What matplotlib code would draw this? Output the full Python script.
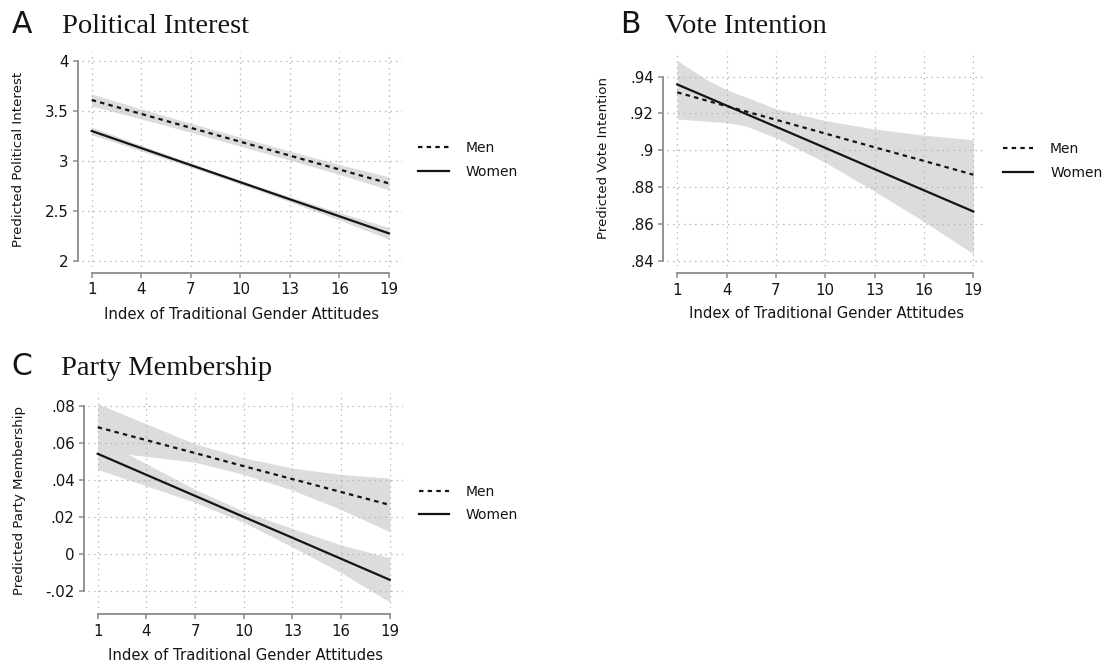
import matplotlib
matplotlib.use("Agg")
import matplotlib.pyplot as plt

# ---------------- data ----------------
x_vals = [1, 4, 7, 10, 13, 16, 19]
x_ticks = [1, 4, 7, 10, 13, 16, 19]

# Panel A: Political Interest
a_men = [3.607, 3.468, 3.329, 3.190, 3.051, 2.912, 2.773]
a_men_lo = [3.547, 3.418, 3.284, 3.145, 3.006, 2.862, 2.708]
a_men_hi = [3.667, 3.518, 3.374, 3.235, 3.096, 2.962, 2.838]
a_women = [3.297, 3.126, 2.956, 2.785, 2.614, 2.444, 2.273]
a_women_lo = [3.259, 3.098, 2.936, 2.765, 2.589, 2.406, 2.215]
a_women_hi = [3.335, 3.154, 2.976, 2.805, 2.639, 2.482, 2.331]
a_yticks = [2, 2.5, 3, 3.5, 4]
a_yticklabels = ["2", "2.5", "3", "3.5", "4"]

# Panel B: Vote Intention
b_men = [.9315, .9240, .9166, .9091, .9016, .8942, .8867]
b_men_lo = [.9170, .9150, .9106, .9021, .8916, .8802, .8677]
b_men_hi = [.9460, .9330, .9226, .9161, .9116, .9082, .9057]
b_women = [.9358, .9243, .9128, .9013, .8897, .8782, .8667]
b_women_lo = [.9228, .9173, .9068, .8933, .8777, .8612, .8437]
b_women_hi = [.9488, .9313, .9188, .9093, .9017, .8952, .8897]
b_yticks = [.84, .86, .88, .90, .92, .94]
b_yticklabels = [".84", ".86", ".88", ".9", ".92", ".94"]

# Panel C: Party Membership
c_men = [.0686, .0616, .0546, .0475, .0405, .0335, .0265]
c_men_lo = [.0559, .0528, .0496, .0430, .0345, .0240, .0120]
c_men_hi = [.0813, .0704, .0596, .0520, .0465, .0430, .0410]
c_women = [.0542, .0428, .0314, .0200, .0087, -.0027, -.0141]
c_women_lo = [.0457, .0368, .0279, .0170, .0037, -.0102, -.0261]
c_women_hi = [.0627, .0488, .0349, .0230, .0137, .0048, -.0021]
c_yticks = [-.02, 0, .02, .04, .06, .08]
c_yticklabels = ["-.02", "0", ".02", ".04", ".06", ".08"]

series_labels = ["Men", "Women"]
x_label = "Index of Traditional Gender Attitudes"

# ---------------- style ----------------
W, H = 1109, 665
fig = plt.figure(figsize=(W / 100, H / 100), dpi=100)
SANS = ["DejaVu Sans"]
SERIF = ["Liberation Serif", "DejaVu Serif"]
plt.rcParams["font.family"] = SANS

SPINE = "#8a8a8a"
BAND = "#dcdcdc"
GRID = "#b8b8b8"
INK = "#141414"


def px_axes(left, top, right, bottom):
    return fig.add_axes([left / W, 1 - bottom / H, (right - left) / W, (bottom - top) / H])


def panel(ax, men, men_lo, men_hi, women, women_lo, women_hi,
          yticks, yticklabels, ylim, ylabel, ylabel_x, spine_out, leg_anchor, xlab_y):
    ax.fill_between(x_vals, men_lo, men_hi, color=BAND, lw=0, zorder=1)
    ax.fill_between(x_vals, women_lo, women_hi, color=BAND, lw=0, zorder=1)
    ax.plot(x_vals, men, color=INK, lw=1.6, ls=(0, (2.0, 1.9)),
            label=series_labels[0], zorder=3)
    ax.plot(x_vals, women, color=INK, lw=1.6, ls="-",
            label=series_labels[1], zorder=3)
    ax.set_xlim(0.4, 19.79)
    ax.set_ylim(*ylim)
    ax.set_xticks(x_ticks)
    ax.set_yticks(yticks)
    ax.set_yticklabels(yticklabels)
    ax.grid(True, color=GRID, lw=0.9, ls=(0, (1.2, 3.2)), zorder=2)
    ax.set_axisbelow(False)
    for s in ["top", "right"]:
        ax.spines[s].set_visible(False)
    ax.spines["left"].set_position(("outward", spine_out[0]))
    ax.spines["bottom"].set_position(("outward", spine_out[1]))
    ax.spines["left"].set_bounds(yticks[0], yticks[-1])
    ax.spines["bottom"].set_bounds(x_ticks[0], x_ticks[-1])
    for s in ["left", "bottom"]:
        ax.spines[s].set_color(SPINE)
        ax.spines[s].set_linewidth(1.3)
    ax.tick_params(direction="out", length=3.6, width=1.1, color=SPINE,
                   labelsize=10.8, labelcolor=INK, pad=3.3)
    ax.set_xlabel(x_label, fontsize=10.7, color=INK, va="center")
    ax.xaxis.set_label_coords(0.5, xlab_y)
    ax.set_ylabel(ylabel, fontsize=9.6, color=INK, va="center")
    ax.yaxis.set_label_coords(ylabel_x, 0.5)
    ax.patch.set_alpha(0)
    leg = ax.legend(loc="center left", bbox_to_anchor=leg_anchor, frameon=False,
                    fontsize=10, handlelength=2.2, handletextpad=1.2,
                    labelspacing=0.7, borderpad=0, borderaxespad=0)
    for t in leg.get_texts():
        t.set_color(INK)


# Panel A
axA = px_axes(81.8, 52, 402, 266.7)
panel(axA, a_men, a_men_lo, a_men_hi, a_women, a_women_lo, a_women_hi,
      a_yticks, a_yticklabels, (1.94, 4.087), "Predicted Political Interest",
      -0.198, (2.5, 4.3), (1.05, 0.496), -0.222)

# Panel B
axB = px_axes(667.4, 51, 986.3, 265.5)
panel(axB, b_men, b_men_lo, b_men_hi, b_women, b_women_lo, b_women_hi,
      b_yticks, b_yticklabels, (0.8373, 0.954), "Predicted Vote Intention",
      -0.199, (3.0, 5.6), (1.052, 0.488), -0.223)

# Panel C
axC = px_axes(88, 393.3, 402.5, 608)
panel(axC, c_men, c_men_lo, c_men_hi, c_women, c_women_lo, c_women_hi,
      c_yticks, c_yticklabels, (-0.0294, 0.087), "Predicted Party Membership",
      -0.2175, (2.7, 4.5), (1.051, 0.487), -0.219)

# Titles
def title(letter, lx, text, tx, base_y):
    fig.text(lx / W, 1 - base_y / H, letter, fontsize=21.5, family=SANS,
             va="baseline", ha="left", color=INK)
    fig.text(tx / W, 1 - base_y / H, text, fontsize=20.5, family=SERIF,
             va="baseline", ha="left", color=INK)

title("A", 12, "Political Interest", 61.7, 33.3)
title("B", 620, "Vote Intention", 665, 33.3)
title("C", 11.5, "Party Membership", 60.7, 375)

fig.savefig("out.png", dpi=100, facecolor="white")
